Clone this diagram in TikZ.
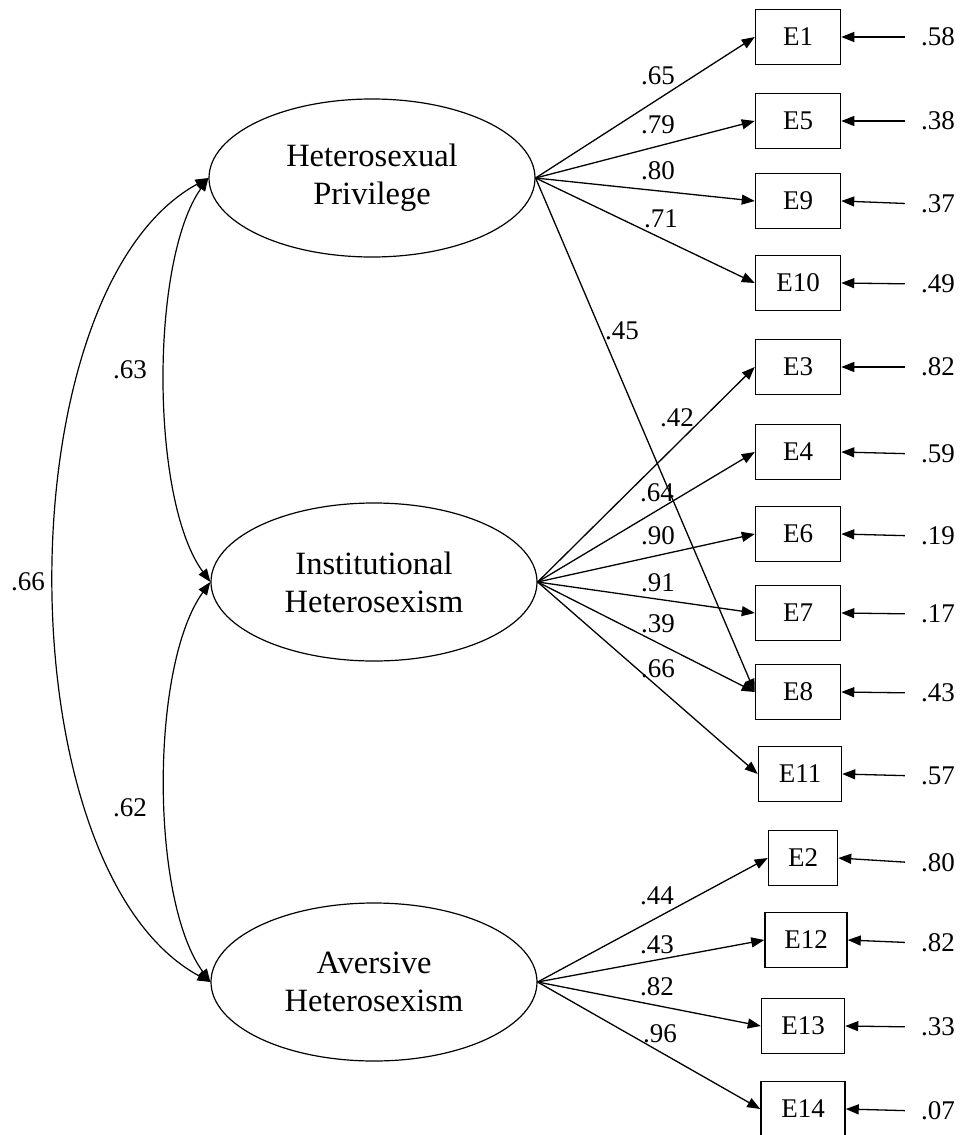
\documentclass[tikz,border=0pt]{standalone}
\usepackage{fontspec}
\setmainfont{Liberation Serif}
\usepackage{tikz}
\usetikzlibrary{shapes.geometric,arrows.meta,positioning}

\begin{document}
\begin{tikzpicture}[
    x=1pt, y=-1pt,
    font=\fontsize{27}{32}\selectfont,
    latent/.style={ellipse, draw=black, line width=1.2pt, minimum width=326pt, minimum height=158pt, inner sep=0pt, align=center, font=\fontsize{32.5}{38}\selectfont},
    item/.style={rectangle, draw=black, line width=1.5pt, minimum width=85pt, minimum height=55pt, inner sep=0pt},
    arrow/.style={-{Triangle[length=13pt,width=10pt]}, line width=1.3pt},
    covar/.style={{Triangle[length=13pt,width=10pt]}-{Triangle[length=13pt,width=10pt]}, line width=1.2pt},
    err/.style={inner sep=2pt},
]
\useasboundingbox (0,0) rectangle (962,1135);

% Latent factors
\node[latent] (hp) at (372,178) {Heterosexual\\ Privilege};
\node[latent] (ih) at (374,582) {Institutional\\Heterosexism};
\node[latent] (ah) at (374,982) {Aversive\\Heterosexism};

% Items
\node[item] (e1) at (798,37) {E1};
\node[item] (e5) at (798,121) {E5};
\node[item] (e9) at (798,201) {E9};
\node[item] (e10) at (798,283) {E10};
\node[item] (e3) at (798,367) {E3};
\node[item] (e4) at (798,452) {E4};
\node[item] (e6) at (798,534) {E6};
\node[item] (e7) at (798,613) {E7};
\node[item] (e8) at (798,692) {E8};
\node[item, minimum width=83pt] (e11) at (800,774) {E11};
\node[item, minimum width=69pt] (e2) at (803,858) {E2};
\node[item, minimum width=82pt] (e12) at (806,940) {E12};
\node[item, minimum width=83pt] (e13) at (803,1026) {E13};
\node[item, minimum width=84pt] (e14) at (803,1109) {E14};

% Heterosexual Privilege loadings
\draw[arrow] (hp.east) -- (e1.west);
\draw[arrow] (hp.east) -- (e5.west);
\draw[arrow] (hp.east) -- (e9.west);
\draw[arrow] (hp.east) -- (e10.west);
\draw[arrow] (hp.east) -- (e8.west);
\node (l1) at (658,76) {.65};
\node (l5) at (658,125) {.79};
\node (l9) at (658,171) {.80};
\node (l10) at (661,219) {.71};
\node (l8a) at (622,331) {.45};

% Institutional Heterosexism loadings
\draw[arrow] (ih.east) -- (e3.west);
\draw[arrow] (ih.east) -- (e4.west);
\draw[arrow] (ih.east) -- (e6.west);
\draw[arrow] (ih.east) -- (e7.west);
\draw[arrow] (ih.east) -- (e8.west);
\draw[arrow] (ih.east) -- (e11.west);
\node (l3) at (677,418) {.42};
\node (l4) at (657,493) {.64};
\node (l6) at (658,536) {.90};
\node (l7) at (658,583) {.91};
\node (l8b) at (658,624) {.39};
\node (l11) at (658,669) {.66};

% Aversive Heterosexism loadings
\draw[arrow] (ah.east) -- (e2.west);
\draw[arrow] (ah.east) -- (e12.west);
\draw[arrow] (ah.east) -- (e13.west);
\draw[arrow] (ah.east) -- (e14.west);
\node (l2) at (657,896) {.44};
\node (l12) at (657,945) {.43};
\node (l13) at (657,987) {.82};
\node (l14) at (660,1034) {.96};

% Residuals
\node[err] (r1) at (938,37) {.58};
\node[err] (r5) at (938,121) {.38};
\node[err] (r9) at (938,204) {.37};
\node[err] (r10) at (938,284) {.49};
\node[err] (r3) at (938,367) {.82};
\node[err] (r4) at (938,454) {.59};
\node[err] (r6) at (938,536) {.19};
\node[err] (r7) at (938,614) {.17};
\node[err] (r8) at (938,693) {.43};
\node[err] (r11) at (938,776) {.57};
\node[err] (r2) at (938,863) {.80};
\node[err] (r12) at (938,943) {.82};
\node[err] (r13) at (938,1027) {.33};
\node[err] (r14) at (938,1111) {.07};
\draw[arrow, shorten <=14pt] (r1.west) -- (e1.east);
\draw[arrow, shorten <=14pt] (r5.west) -- (e5.east);
\draw[arrow, shorten <=14pt] (r9.west) -- (e9.east);
\draw[arrow, shorten <=14pt] (r10.west) -- (e10.east);
\draw[arrow, shorten <=14pt] (r3.west) -- (e3.east);
\draw[arrow, shorten <=14pt] (r4.west) -- (e4.east);
\draw[arrow, shorten <=14pt] (r6.west) -- (e6.east);
\draw[arrow, shorten <=14pt] (r7.west) -- (e7.east);
\draw[arrow, shorten <=14pt] (r8.west) -- (e8.east);
\draw[arrow, shorten <=14pt] (r11.west) -- (e11.east);
\draw[arrow, shorten <=14pt] (r2.west) -- (e2.east);
\draw[arrow, shorten <=14pt] (r12.west) -- (e12.east);
\draw[arrow, shorten <=14pt] (r13.west) -- (e13.east);
\draw[arrow, shorten <=14pt] (r14.west) -- (e14.east);

% Factor correlations
\draw[covar] (hp.west) .. controls (150,260) and (150,500) .. (ih.west);
\draw[covar] (ih.west) .. controls (150,665) and (150,900) .. (ah.west);
\draw[covar] (hp.west) .. controls (3,290) and (3,870) .. (ah.west);
\node (c1) at (130,370) {.63};
\node (c2) at (130,808) {.62};
\node (c3) at (28,582) {.66};

\end{tikzpicture}
\end{document}
